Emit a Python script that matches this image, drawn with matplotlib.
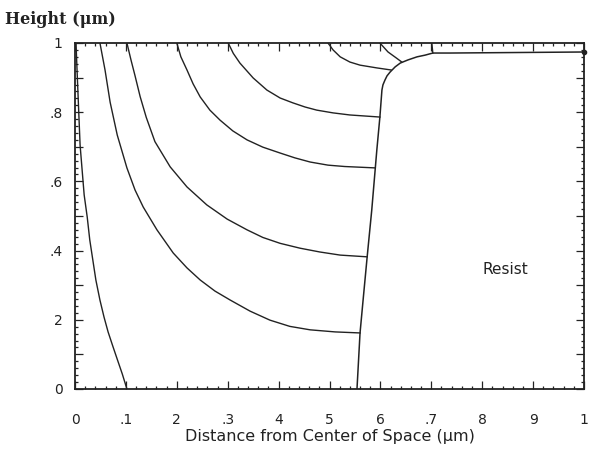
import numpy as np
import matplotlib.pyplot as plt
from matplotlib.ticker import FixedLocator, FixedFormatter, MultipleLocator

# development fronts (x: distance from centre of space, y: height), in um
front_a_x = [0.002, 0.004, 0.006, 0.008, 0.010, 0.014, 0.018, 0.024, 0.029,
             0.035, 0.041, 0.049, 0.057, 0.065, 0.074, 0.083, 0.093, 0.102]
front_a_y = [1.000, 0.922, 0.850, 0.777, 0.705, 0.633, 0.561, 0.497, 0.431,
             0.373, 0.315, 0.257, 0.208, 0.165, 0.125, 0.086, 0.043, 0.000]

front_b_x = [0.049, 0.059, 0.069, 0.083, 0.102, 0.118, 0.134, 0.161, 0.193,
             0.220, 0.246, 0.275, 0.305, 0.344, 0.383, 0.422, 0.462, 0.511, 0.560]
front_b_y = [1.000, 0.922, 0.829, 0.734, 0.639, 0.575, 0.526, 0.460, 0.393,
             0.350, 0.315, 0.283, 0.257, 0.225, 0.199, 0.181, 0.171, 0.165, 0.162]

front_c_x = [0.102, 0.110, 0.118, 0.128, 0.140, 0.157, 0.187, 0.220, 0.259,
             0.299, 0.338, 0.369, 0.403, 0.442, 0.481, 0.521, 0.574]
front_c_y = [1.000, 0.951, 0.905, 0.845, 0.785, 0.715, 0.642, 0.584, 0.532,
             0.491, 0.460, 0.438, 0.421, 0.407, 0.396, 0.387, 0.382]

front_d_x = [0.200, 0.208, 0.220, 0.232, 0.246, 0.265, 0.285, 0.310, 0.338,
             0.369, 0.403, 0.432, 0.462, 0.497, 0.530, 0.590]
front_d_y = [1.000, 0.960, 0.922, 0.882, 0.844, 0.806, 0.777, 0.746, 0.720,
             0.699, 0.682, 0.668, 0.656, 0.647, 0.643, 0.639]

front_e_x = [0.301, 0.311, 0.324, 0.350, 0.377, 0.403, 0.428, 0.452, 0.475,
             0.507, 0.540, 0.599]
front_e_y = [1.000, 0.970, 0.942, 0.899, 0.864, 0.841, 0.827, 0.815, 0.806,
             0.798, 0.792, 0.786]

front_f_x = [0.497, 0.507, 0.521, 0.540, 0.560, 0.593, 0.621]
front_f_y = [1.000, 0.980, 0.960, 0.945, 0.936, 0.928, 0.922]

front_g_x = [0.599, 0.615, 0.631, 0.642]
front_g_y = [1.000, 0.974, 0.957, 0.945]

front_h_x = [0.701, 0.703]
front_h_y = [1.000, 0.971]

# final resist profile
resist_x = [0.554, 0.560, 0.566, 0.574, 0.583, 0.593, 0.599, 0.603, 0.605,
            0.609, 0.613, 0.619, 0.629, 0.639, 0.654, 0.672, 0.688, 0.703,
            0.737, 1.000]
resist_y = [0.000, 0.162, 0.257, 0.382, 0.517, 0.691, 0.786, 0.864, 0.879,
            0.893, 0.905, 0.916, 0.931, 0.942, 0.951, 0.960, 0.965, 0.971,
            0.971, 0.974]

x_ticks = [0.0, 0.1, 0.2, 0.3, 0.4, 0.5, 0.6, 0.7, 0.8, 0.9, 1.0]
x_labels = ["0", ".1", "2", ".3", "4", "5", "6", ".7", "8", "9", "1"]
y_ticks = [0.0, 0.1, 0.2, 0.3, 0.4, 0.5, 0.6, 0.7, 0.8, 0.9, 1.0]
y_labels = ["0", "", "2", "", ".4", "", ".6", "", ".8", "", "1"]

INK = "#222222"

fig = plt.figure(figsize=(5.9, 4.54), dpi=100)
ax = fig.add_axes([75 / 590, 65 / 454, 509 / 590, 346 / 454])

fronts = [
    (front_a_x, front_a_y), (front_b_x, front_b_y), (front_c_x, front_c_y),
    (front_d_x, front_d_y), (front_e_x, front_e_y), (front_f_x, front_f_y),
    (front_g_x, front_g_y), (front_h_x, front_h_y),
]
for fx, fy in fronts:
    ax.plot(fx, fy, color=INK, lw=1.0, solid_joinstyle="round")

ax.plot(resist_x, resist_y, color=INK, lw=1.1, solid_joinstyle="round")
ax.plot(resist_x[-1], resist_y[-1], "o", color=INK, ms=3, clip_on=False)

ax.text(0.845, 0.344, "Resist", ha="center", va="center",
        fontsize=11, color=INK)

ax.set_xlim(0, 1)
ax.set_ylim(0, 1)

ax.xaxis.set_major_locator(FixedLocator(x_ticks))
ax.xaxis.set_major_formatter(FixedFormatter(x_labels))
ax.xaxis.set_minor_locator(MultipleLocator(0.02))
ax.yaxis.set_major_locator(FixedLocator(y_ticks))
ax.yaxis.set_major_formatter(FixedFormatter(y_labels))
ax.yaxis.set_minor_locator(MultipleLocator(0.02))

ax.tick_params(which="both", direction="in", top=True, right=True,
               color=INK, labelcolor=INK, labelsize=10)
ax.tick_params(which="major", length=5.5, width=0.9)
ax.tick_params(which="minor", length=2.5, width=0.9)
ax.tick_params(axis="x", pad=17)
ax.tick_params(axis="y", pad=9)

for sp in ax.spines.values():
    sp.set_color(INK)
    sp.set_linewidth(1.3)

fig.text(330 / 590, 1 - 437 / 454, "Distance from Center of Space (\u03bcm)",
         ha="center", va="center", fontsize=11.5, color=INK)
fig.text(5 / 590, 1 - 19 / 454, "Height (\u03bcm)", ha="left", va="center",
         fontsize=11.5, fontweight="bold", family="DejaVu Serif", color=INK)

fig.savefig("out.png", dpi=100, facecolor="white")
